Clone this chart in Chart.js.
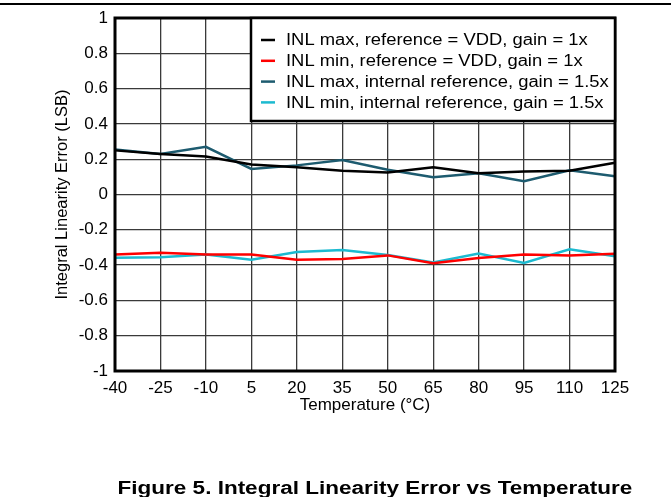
<!DOCTYPE html>
<html>
<head>
<meta charset="utf-8">
<script src="https://cdn.jsdelivr.net/npm/chart.js@4.4.1/dist/chart.umd.min.js"></script>
<style>
  body { margin: 0; background: #fff; width: 671px; height: 497px; overflow: hidden; position: relative; font-family: "Liberation Sans", Arial, sans-serif; }
  #rule { position: absolute; left: 0; top: 3px; width: 671px; border-top: 2px solid #000; }
  #wrap { position: absolute; left: 0; top: 0; width: 671px; height: 497px; }
  #caption { position: absolute; left: 0; top: 479px; width: 750px; text-align: center; font-weight: bold; font-size: 18px; line-height: 18px; transform: scaleX(1.25); transform-origin: 375px 0; }
</style>
</head>
<body>
<div id="rule"></div>
<div id="wrap"><canvas id="myChart" width="671" height="497"></canvas></div>
<div id="caption">Figure 5. Integral Linearity Error vs Temperature</div>
<script>
// temperatures (°C) on the x axis
const temps = [-40, -25, -10, 5, 20, 35, 50, 65, 80, 95, 110, 125];
const yTicks = [1, 0.8, 0.6, 0.4, 0.2, 0, -0.2, -0.4, -0.6, -0.8, -1];

// INL values in LSB
const inlMaxVdd = [0.25, 0.23, 0.215, 0.17, 0.155, 0.135, 0.125, 0.155, 0.12, 0.13, 0.135, 0.18];
const inlMinVdd = [-0.34, -0.33, -0.34, -0.34, -0.37, -0.365, -0.345, -0.39, -0.36, -0.34, -0.345, -0.335];
const inlMaxInt = [0.255, 0.23, 0.27, 0.145, 0.165, 0.195, 0.14, 0.098, 0.12, 0.075, 0.137, 0.103];
const inlMinInt = [-0.358, -0.355, -0.34, -0.37, -0.326, -0.315, -0.343, -0.385, -0.335, -0.388, -0.31, -0.35];

const FONT = '"Liberation Sans", Arial, sans-serif';

function series(label, data, color) {
    return {
        label: label,
        data: data,
        borderColor: color,
        backgroundColor: color,
        borderWidth: 2.5,
        pointRadius: 0,
        tension: 0,
        fill: false
    };
}

// frame round the plot + legend box in the top right corner
const framePlugin = {
    id: 'frame',
    afterDraw(chart) {
        const ctx = chart.ctx;
        const a = chart.chartArea;
        ctx.save();
        ctx.strokeStyle = '#000';
        ctx.lineWidth = 3;
        ctx.strokeRect(a.left, a.top, a.right - a.left, a.bottom - a.top);

        // legend
        const bx = 251, by = a.top, bw = a.right - bx, bh = 103;
        ctx.fillStyle = '#fff';
        ctx.fillRect(bx, by, bw, bh);
        ctx.lineWidth = 2.5;
        ctx.strokeRect(bx, by, bw, bh);
        ctx.font = '16px ' + FONT;
        ctx.textBaseline = 'middle';
        chart.data.datasets.forEach(function(ds, i) {
            const y = by + 22 + i * 20.8;
            ctx.strokeStyle = ds.borderColor;
            ctx.lineWidth = 2.5;
            ctx.beginPath();
            ctx.moveTo(261, y);
            ctx.lineTo(275, y);
            ctx.stroke();
            ctx.fillStyle = '#000';
            ctx.save();
            ctx.translate(286, y + 1);
            ctx.scale(1.15, 1); // the source text is set a little wide
            ctx.fillText(ds.label, 0, 0);
            ctx.restore();
        });
        ctx.restore();
    }
};

new Chart(document.getElementById('myChart').getContext('2d'), {
    type: 'line',
    data: {
        labels: temps,
        datasets: [
            series('INL max, reference = VDD, gain = 1x', inlMaxVdd, '#000000'),
            series('INL min, reference = VDD, gain = 1x', inlMinVdd, '#ff0000'),
            series('INL max, internal reference, gain = 1.5x', inlMaxInt, '#1d5b6f'),
            series('INL min, internal reference, gain = 1.5x', inlMinInt, '#1cbad0')
        ]
    },
    options: {
        responsive: false,
        animation: false,
        layout: { padding: { left: 0, top: 18, right: 56, bottom: 0 } },
        plugins: { legend: { display: false }, tooltip: { enabled: false } },
        scales: {
            x: {
                type: 'category',
                offset: false,
                grid: { color: '#3a3a3a', lineWidth: 1.3, drawTicks: false },
                border: { display: false },
                ticks: { color: '#000', font: { family: FONT, size: 17 }, padding: 7, maxRotation: 0, autoSkip: false },
                title: { display: true, text: 'Temperature (°C)', color: '#000', font: { family: FONT, size: 17 }, padding: { top: 0, bottom: 81 } },
                afterFit(scale) { scale.height = 126; }
            },
            y: {
                min: -1,
                max: 1,
                afterBuildTicks(scale) { scale.ticks = yTicks.map(v => ({ value: v })); },
                grid: { color: '#3a3a3a', lineWidth: 1.3, drawTicks: false },
                border: { display: false },
                ticks: {
                    color: '#000',
                    font: { family: FONT, size: 17 },
                    padding: 7,
                    callback: v => String(Number(v.toFixed(1)))
                },
                title: { display: true, text: 'Integral Linearity Error (LSB)', color: '#000', font: { family: FONT, size: 16.5 }, padding: { top: 53, bottom: 0 } },
                afterFit(scale) { scale.width = 115; }
            }
        }
    },
    plugins: [framePlugin]
});
</script>
</body>
</html>
